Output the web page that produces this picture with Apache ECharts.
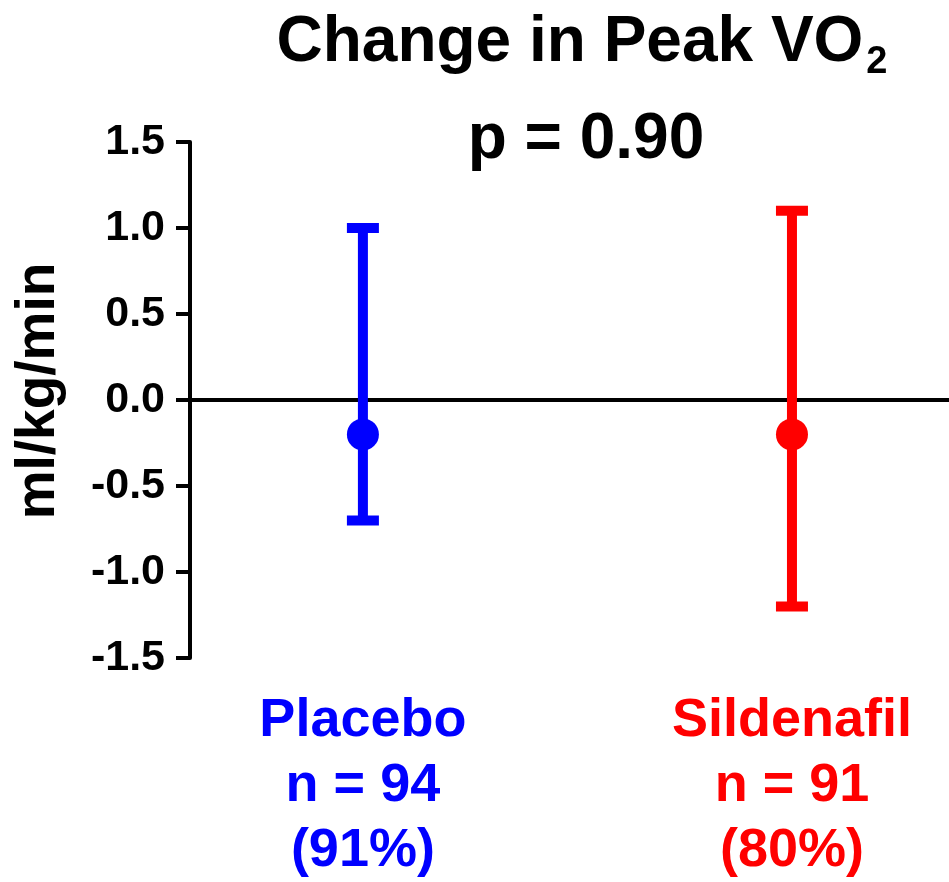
<!DOCTYPE html>
<html>
<head>
<meta charset="utf-8">
<script src="https://cdn.jsdelivr.net/npm/echarts@6/dist/echarts.min.js"></script>
<style>
  html, body { margin: 0; padding: 0; background: #fff; }
  #chart { width: 949px; height: 882px; }
</style>
</head>
<body>
<div id="chart"></div>
<script>
// group data
const groups = ['Placebo', 'Sildenafil'];
const groupX = [1, 2];
const nCounts = [94, 91];
const percents = ['91%', '80%'];
const means = [-0.2, -0.2];
const upper = [1.0, 1.1];
const lower = [-0.7, -1.2];
const pValue = '0.90';

const colors = ['#0000ff', '#ff0000'];
const font = '"Liberation Sans", Arial, sans-serif';

function getOption() {
    let errData = groupX.map((x, i) => [x, lower[i], upper[i], i]);
    let pointData = groupX.map((x, i) => ({
        value: [x, means[i]],
        itemStyle: { color: colors[i], opacity: 1 }
    }));

    let option = {
        animation: false,
        backgroundColor: '#fff',
        textStyle: { fontFamily: font },
        title: [
            {
                text: '{t|Change in Peak VO}{s|2}',
                left: 577,
                top: -1,
                textAlign: 'center',
                textStyle: {
                    rich: {
                        t: { fontSize: 64, fontWeight: 'bold', color: '#000', fontFamily: font },
                        s: { fontSize: 38, fontWeight: 'bold', color: '#000', fontFamily: font, padding: [40, 0, 0, 3] }
                    }
                }
            },
            {
                text: 'p = ' + pValue,
                left: 581,
                top: 103,
                textAlign: 'center',
                textStyle: { fontSize: 64, fontWeight: 'bold', color: '#000', fontFamily: font }
            }
        ],
        grid: {
            left: 190,
            right: 0,
            top: 142,
            bottom: 224,
            containLabel: false,
            outerBoundsMode: 'none'
        },
        xAxis: [
            {
                type: 'value',
                min: 0.597,
                max: 2.366,
                axisLine: { show: true, onZero: true, lineStyle: { color: '#000', width: 4 } },
                axisTick: { show: false },
                axisLabel: { show: false },
                splitLine: { show: false }
            },
            {
                type: 'value',
                position: 'bottom',
                min: 0.597,
                max: 2.366,
                axisLine: { show: false, onZero: false },
                axisTick: { show: false },
                splitLine: { show: false },
                axisLabel: {
                    customValues: groupX,
                    margin: 31,
                    lineHeight: 65,
                    formatter: function (v) {
                        let i = groupX.indexOf(v);
                        if (i < 0) return '';
                        let k = 'c' + i;
                        return '{' + k + '|' + groups[i] + '}\n{' + k + '|n = ' + nCounts[i] + '}\n{' + k + '|(' + percents[i] + ')}';
                    },
                    rich: {
                        c0: { color: colors[0], fontSize: 54, fontWeight: 'bold', fontFamily: font, lineHeight: 65 },
                        c1: { color: colors[1], fontSize: 54, fontWeight: 'bold', fontFamily: font, lineHeight: 65 }
                    }
                }
            }
        ],
        yAxis: {
            type: 'value',
            min: -1.5,
            max: 1.5,
            interval: 0.5,
            name: 'ml/kg/min',
            nameLocation: 'middle',
            nameRotate: 90,
            nameGap: 124,
            nameTextStyle: { fontSize: 55, fontWeight: 'bold', color: '#000', fontFamily: font, padding: [0, 0, 0, 18] },
            axisLine: { show: true, lineStyle: { color: '#000', width: 4 } },
            axisTick: { show: true, length: 14, lineStyle: { color: '#000', width: 4 } },
            axisLabel: {
                margin: 25,
                fontSize: 43,
                fontWeight: 'bold',
                color: '#000',
                fontFamily: font,
                formatter: v => v.toFixed(1)
            },
            splitLine: { show: false }
        },
        series: [
            {
                type: 'custom',
                xAxisIndex: 0,
                data: errData,
                z: 3,
                renderItem: function (params, api) {
                    let x = api.value(0);
                    let lo = api.coord([x, api.value(1)]);
                    let hi = api.coord([x, api.value(2)]);
                    let c = colors[api.value(3)];
                    let half = 16;
                    let st = { stroke: c, lineWidth: 10, lineCap: 'butt' };
                    return {
                        type: 'group',
                        children: [
                            { type: 'line', shape: { x1: lo[0], y1: lo[1], x2: hi[0], y2: hi[1] }, style: st },
                            { type: 'line', shape: { x1: hi[0] - half, y1: hi[1], x2: hi[0] + half, y2: hi[1] }, style: st },
                            { type: 'line', shape: { x1: lo[0] - half, y1: lo[1], x2: lo[0] + half, y2: lo[1] }, style: st }
                        ]
                    };
                }
            },
            {
                type: 'scatter',
                xAxisIndex: 0,
                symbol: 'circle',
                symbolSize: 32,
                z: 4,
                data: pointData
            }
        ]
    };
    return option;
}

var myChart = echarts.init(document.getElementById('chart'));
myChart.setOption(getOption());
</script>
</body>
</html>
